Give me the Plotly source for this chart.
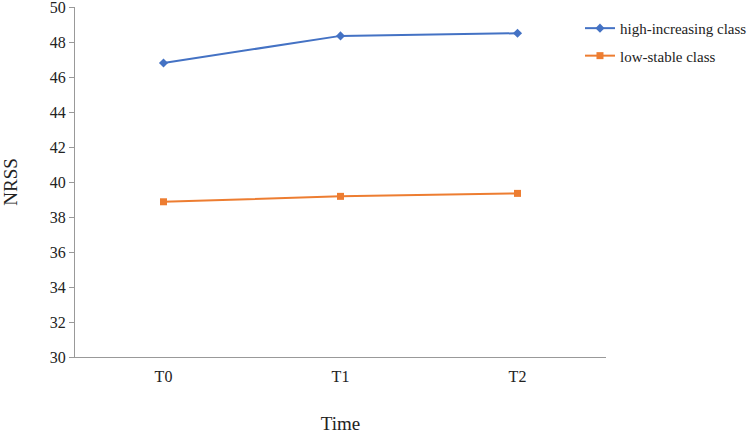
import plotly.graph_objects as go

categories = ["T0", "T1", "T2"]
high_increasing = [46.8, 48.35, 48.5]
low_stable = [38.87, 39.18, 39.35]
series_names = ["high-increasing class", "low-stable class"]

fig = go.Figure()
fig.add_trace(go.Scatter(
    x=categories, y=high_increasing, name=series_names[0], mode="lines+markers",
    legendgroup="a",
    line=dict(color="#4472C4", width=2),
    marker=dict(symbol="diamond", size=7, color="#4472C4"),
))
fig.add_trace(go.Scatter(
    x=categories, y=low_stable, name=series_names[1], mode="lines+markers",
    legendgroup="b",
    line=dict(color="#ED7D31", width=2),
    marker=dict(symbol="square", size=7, color="#ED7D31"),
))

font = "Liberation Serif, Times New Roman, serif"
fig.update_layout(
    width=750, height=434,
    margin=dict(l=75, r=144, t=7, b=77, autoexpand=False),
    plot_bgcolor="white", paper_bgcolor="white",
    font=dict(family=font, size=16, color="#222"),
    legend=dict(x=0.951, y=0.986, xanchor="left", yanchor="top",
                font=dict(family=font, size=15, color="#222"),
                itemwidth=30, tracegroupgap=5, traceorder="grouped"),
    xaxis=dict(
        type="category", range=[-0.5, 2.5], automargin=False,
        showline=True, linecolor="#999", linewidth=1,
        showgrid=False, ticks="outside", ticklen=5, tickcolor="rgba(0,0,0,0)",
        zeroline=False,
        title=dict(text="Time", font=dict(size=19), standoff=34),
    ),
    yaxis=dict(
        range=[30, 50], tickmode="linear", tick0=30, dtick=2,
        ticklabeloverflow="allow",
        showline=True, linecolor="#999", linewidth=1,
        showgrid=False, ticks="outside", ticklen=5, tickcolor="#999",
        zeroline=False, automargin=False,
        title=dict(text="NRSS", font=dict(size=19), standoff=38),
    ),
)
fig.write_html("out.html", config={"displayModeBar": False},
               post_script="document.body.style.margin='0';")
